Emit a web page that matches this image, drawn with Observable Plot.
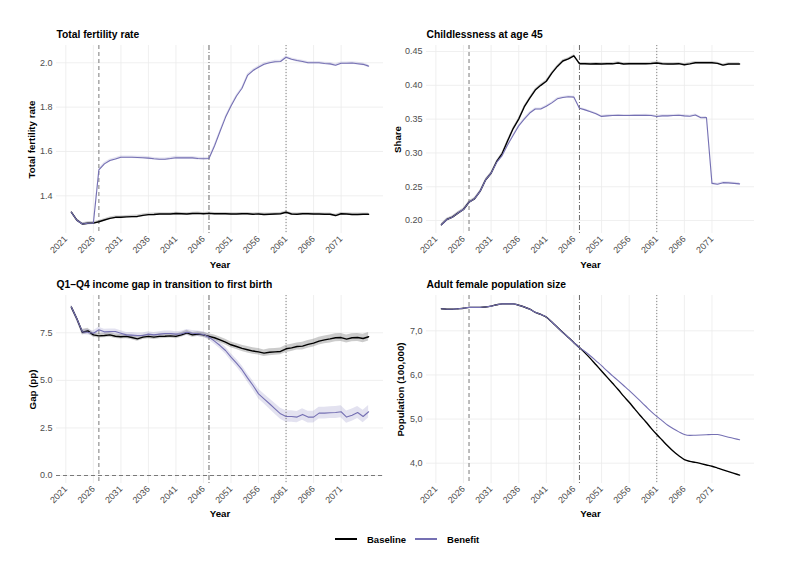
<!DOCTYPE html>
<html><head><meta charset="utf-8">
<script src="https://cdn.jsdelivr.net/npm/d3@7"></script>
<script src="https://cdn.jsdelivr.net/npm/@observablehq/plot@0.6"></script>
<style>
body{margin:0;background:#fff;}
#root{position:relative;width:787px;height:565px;background:#fff;font-family:"Liberation Sans",Arial,sans-serif;overflow:hidden;}
.panel{position:absolute;}
#legend{position:absolute;top:533px;left:335px;height:12px;display:flex;align-items:center;font-weight:bold;font-size:9.5px;color:#000;white-space:nowrap;}
.sw{display:inline-block;width:22px;height:2px;margin-right:10px;}
</style></head><body><div id="root"></div>
<script>
// ---------------- data ----------------
const years = [
  2022, 2023, 2024, 2025, 2026,
  2027, 2028, 2029, 2030, 2031,
  2032, 2033, 2034, 2035, 2036,
  2037, 2038, 2039, 2040, 2041,
  2042, 2043, 2044, 2045, 2046,
  2047, 2048, 2049, 2050, 2051,
  2052, 2053, 2054, 2055, 2056,
  2057, 2058, 2059, 2060, 2061,
  2062, 2063, 2064, 2065, 2066,
  2067, 2068, 2069, 2070, 2071,
  2072, 2073, 2074, 2075, 2076
];
const seriesNames = ["Baseline", "Benefit"];
const xTicks = [2021, 2026, 2031, 2036, 2041, 2046, 2051, 2056, 2061, 2066, 2071];
const policyYears = [2027, 2047, 2061];

// Total fertility rate
const tfrBaseline = [
  1.326, 1.290, 1.273, 1.276, 1.277,
  1.283, 1.291, 1.298, 1.303, 1.303,
  1.305, 1.306, 1.307, 1.312, 1.315,
  1.316, 1.318, 1.318, 1.318, 1.320,
  1.319, 1.318, 1.320, 1.321, 1.319,
  1.321, 1.319, 1.319, 1.319, 1.318,
  1.318, 1.319, 1.319, 1.317, 1.318,
  1.316, 1.317, 1.318, 1.319, 1.326,
  1.318, 1.317, 1.319, 1.319, 1.318,
  1.318, 1.317, 1.317, 1.311, 1.319,
  1.318, 1.316, 1.316, 1.317, 1.317
];
const tfrBenefit = [
  1.326, 1.290, 1.273, 1.276, 1.277,
  1.517, 1.544, 1.559, 1.566, 1.574,
  1.574, 1.574, 1.573, 1.572, 1.570,
  1.567, 1.565, 1.565, 1.568, 1.572,
  1.571, 1.571, 1.571, 1.568, 1.567,
  1.568, 1.625, 1.690, 1.754, 1.805,
  1.850, 1.885, 1.943, 1.965, 1.980,
  1.993, 2.000, 2.005, 2.006, 2.025,
  2.016, 2.010, 2.006, 2.000, 2.000,
  2.000, 1.997, 1.995, 1.989, 1.998,
  1.998, 1.999, 1.996, 1.993, 1.985
];
const tfrBandHalf = [0.006, 0.006];
const tfrTicks = [1.4, 1.6, 1.8, 2.0];

// Childlessness at age 45
const childBaseline = [
  0.1936, 0.2015, 0.2050, 0.2110, 0.2163,
  0.2270, 0.2320, 0.2430, 0.2600, 0.2700,
  0.2870, 0.2990, 0.3180, 0.3360, 0.3500,
  0.3680, 0.3810, 0.3930, 0.4000, 0.4060,
  0.4180, 0.4280, 0.4360, 0.4390, 0.4436,
  0.4320, 0.4320, 0.4315, 0.4320, 0.4315,
  0.4318, 0.4318, 0.4330, 0.4315, 0.4318,
  0.4320, 0.4318, 0.4320, 0.4322, 0.4330,
  0.4320, 0.4315, 0.4315, 0.4320, 0.4305,
  0.4318, 0.4333, 0.4335, 0.4333, 0.4333,
  0.4325, 0.4298, 0.4315, 0.4315, 0.4315
];
const childBenefit = [
  0.1936, 0.2015, 0.2050, 0.2110, 0.2163,
  0.2270, 0.2320, 0.2430, 0.2600, 0.2700,
  0.2860, 0.2960, 0.3120, 0.3260, 0.3400,
  0.3500, 0.3590, 0.3650, 0.3650, 0.3690,
  0.3740, 0.3800, 0.3820, 0.3830, 0.3825,
  0.3660, 0.3637, 0.3610, 0.3580, 0.3540,
  0.3548, 0.3553, 0.3555, 0.3553, 0.3553,
  0.3555, 0.3555, 0.3558, 0.3553, 0.3538,
  0.3548, 0.3548, 0.3553, 0.3558, 0.3548,
  0.3543, 0.3560, 0.3520, 0.3524, 0.2550,
  0.2537, 0.2560, 0.2557, 0.2550, 0.2542
];
const childBandHalf = [0.0018, 0.0015];
const childTicks = [0.20, 0.25, 0.30, 0.35, 0.40, 0.45];

// Q1-Q4 income gap in transition to first birth
const gapBaseline = [
  8.85, 8.24, 7.53, 7.60, 7.39,
  7.34, 7.36, 7.39, 7.32, 7.29,
  7.31, 7.25, 7.18, 7.27, 7.31,
  7.27, 7.31, 7.32, 7.34, 7.31,
  7.39, 7.50, 7.39, 7.43, 7.39,
  7.31, 7.24, 7.13, 7.01, 6.87,
  6.78, 6.68, 6.61, 6.54, 6.50,
  6.43, 6.48, 6.50, 6.52, 6.66,
  6.71, 6.78, 6.80, 6.89, 6.96,
  7.06, 7.13, 7.18, 7.24, 7.25,
  7.17, 7.24, 7.25, 7.20, 7.29
];
const gapBenefit = [
  8.85, 8.24, 7.55, 7.53, 7.48,
  7.66, 7.55, 7.57, 7.57, 7.48,
  7.39, 7.38, 7.36, 7.36, 7.43,
  7.39, 7.43, 7.46, 7.46, 7.43,
  7.45, 7.53, 7.48, 7.45, 7.41,
  7.27, 7.06, 6.83, 6.57, 6.22,
  5.91, 5.56, 5.13, 4.73, 4.29,
  4.03, 3.77, 3.50, 3.24, 3.10,
  3.10, 3.07, 3.21, 3.07, 3.07,
  3.28, 3.28, 3.30, 3.31, 3.35,
  3.07, 3.17, 3.31, 3.10, 3.35
];
const gapBaselineBand = [
  0.10, 0.12, 0.14, 0.14, 0.13,
  0.12, 0.12, 0.12, 0.12, 0.12,
  0.12, 0.12, 0.12, 0.12, 0.12,
  0.12, 0.12, 0.12, 0.12, 0.12,
  0.12, 0.13, 0.13, 0.13, 0.13,
  0.14, 0.14, 0.15, 0.15, 0.15,
  0.16, 0.16, 0.17, 0.17, 0.17,
  0.17, 0.18, 0.18, 0.18, 0.19,
  0.19, 0.19, 0.20, 0.20, 0.20,
  0.20, 0.20, 0.21, 0.21, 0.21,
  0.21, 0.21, 0.21, 0.22, 0.22
];
const gapBenefitBand = [
  0.10, 0.12, 0.14, 0.14, 0.13,
  0.13, 0.13, 0.13, 0.13, 0.13,
  0.13, 0.13, 0.13, 0.13, 0.13,
  0.13, 0.13, 0.13, 0.13, 0.13,
  0.13, 0.14, 0.14, 0.14, 0.14,
  0.15, 0.16, 0.17, 0.18, 0.19,
  0.20, 0.21, 0.22, 0.24, 0.25,
  0.26, 0.27, 0.28, 0.29, 0.30,
  0.30, 0.30, 0.30, 0.31, 0.31,
  0.31, 0.31, 0.31, 0.32, 0.32,
  0.32, 0.32, 0.32, 0.33, 0.33
];
const gapTicks = [0.0, 2.5, 5.0, 7.5];

// Adult female population size (100,000)
const popBaseline = [
  7.50, 7.49, 7.49, 7.50, 7.51,
  7.53, 7.53, 7.53, 7.54, 7.56,
  7.59, 7.61, 7.61, 7.61, 7.58,
  7.54, 7.49, 7.42, 7.37, 7.31,
  7.20, 7.08, 6.96, 6.85, 6.73,
  6.62, 6.50, 6.37, 6.23, 6.09,
  5.95, 5.81, 5.67, 5.52, 5.38,
  5.23, 5.08, 4.94, 4.79, 4.65,
  4.52, 4.39, 4.27, 4.17, 4.08,
  4.04, 4.02, 3.99, 3.96, 3.93,
  3.89, 3.85, 3.81, 3.77, 3.73
];
const popBenefit = [
  7.50, 7.49, 7.49, 7.50, 7.51,
  7.53, 7.53, 7.53, 7.54, 7.56,
  7.59, 7.61, 7.61, 7.61, 7.58,
  7.54, 7.49, 7.42, 7.37, 7.31,
  7.20, 7.08, 6.96, 6.85, 6.73,
  6.62, 6.53, 6.43, 6.32, 6.21,
  6.09, 5.98, 5.87, 5.76, 5.65,
  5.53, 5.41, 5.29, 5.17, 5.06,
  4.96, 4.86, 4.78, 4.71, 4.65,
  4.63, 4.635, 4.64, 4.645, 4.65,
  4.65, 4.62, 4.59, 4.56, 4.53
];
const popTicks = [4.0, 5.0, 6.0, 7.0];

// ---------------- styles ----------------
const FONT = '"Liberation Sans", Arial, Helvetica, sans-serif';
const COLORS = ["#000000", "#7570b3"];
const WIDTHS = [1.4, 1.1];
const POLICY_DASH = ["4,3", "5,2,1,2", "1,2"];
const POLICY_COLOR = ["#6b6b6b", "#5a5a5a", "#777777"];
const GRID = "#ebebeb";
const X_DOMAIN = [2019.3, 2078.7];

function buildPanel(cfg) {
  const rows = years.map((yr, i) => ({
    year: yr,
    v0: cfg.base[i], v1: cfg.ben[i],
    b0: cfg.baseBand[i], b1: cfg.benBand[i]
  }));
  const vals = [cfg.base, cfg.ben];
  const marks = [
    Plot.gridX(xTicks, {stroke: GRID, strokeOpacity: 1, strokeWidth: 0.8}),
    Plot.gridY(cfg.yTicks, {stroke: GRID, strokeOpacity: 1, strokeWidth: 0.8})
  ];
  [0, 1].forEach(s => {
    marks.push(Plot.areaY(rows, {
      x: "year",
      y1: d => d["v" + s] - d["b" + s],
      y2: d => d["v" + s] + d["b" + s],
      fill: COLORS[s], fillOpacity: 0.2, curve: cfg.curve || "linear"
    }));
  });
  if (cfg.zeroLine) {
    marks.push(Plot.ruleY([0], {stroke: "#6b6b6b", strokeWidth: 0.9, strokeDasharray: "4,3"}));
  }
  policyYears.forEach((yr, k) => {
    marks.push(Plot.ruleX([yr], {stroke: POLICY_COLOR[k], strokeWidth: 0.9, strokeDasharray: POLICY_DASH[k]}));
  });
  [0, 1].forEach(s => {
    marks.push(Plot.lineY(rows, {
      x: "year", y: "v" + s, stroke: COLORS[s], strokeWidth: WIDTHS[s],
      curve: cfg.curve || "linear"
    }));
  });
  marks.push(Plot.axisX({ticks: xTicks, tickSize: 0, tickPadding: 4, tickRotate: -45,
    tickFormat: d => String(d), fontSize: 9, fill: "#4d4d4d", label: null}));
  marks.push(Plot.axisY({ticks: cfg.yTicks, tickSize: 0, tickPadding: 4,
    tickFormat: cfg.yFormat, fontSize: 9, fill: "#4d4d4d", label: null}));
  marks.push(Plot.text([cfg.title], {frameAnchor: "top-left", textAnchor: "start", lineAnchor: "middle",
    dy: cfg.titleDy, fontSize: 10.3, fontWeight: "bold", fill: "#000"}));
  marks.push(Plot.text(["Year"], {frameAnchor: "bottom", textAnchor: "middle", lineAnchor: "middle",
    dy: cfg.xLabelDy, fontSize: 9.7, fontWeight: "bold", fill: "#000"}));
  marks.push(Plot.text([cfg.yLabel], {frameAnchor: "left", textAnchor: "middle", lineAnchor: "middle",
    rotate: -90, dx: cfg.yLabelDx, fontSize: 9.7, fontWeight: "bold", fill: "#000"}));

  const svg = Plot.plot({
    width: cfg.width, height: cfg.height,
    marginLeft: cfg.mL, marginRight: cfg.mR, marginTop: cfg.mT, marginBottom: cfg.mB,
    style: {fontFamily: FONT, background: "transparent", overflow: "visible"},
    x: {domain: X_DOMAIN, axis: null},
    y: {domain: cfg.yDomain, axis: null},
    marks
  });
  const div = document.createElement("div");
  div.className = "panel";
  div.style.left = cfg.left + "px";
  div.style.top = cfg.top + "px";
  div.appendChild(svg);
  document.getElementById("root").appendChild(div);
}

const comma1 = d => d.toFixed(1).replace(".", ",");

buildPanel({left: 0, top: 0, width: 393, height: 280, mL: 56, mR: 10, mT: 45, mB: 47,
  title: "Total fertility rate", yLabel: "Total fertility rate", yLabelDx: -24.5, titleDy: -11, xLabelDy: 31,
  yDomain: [1.23, 2.078], yTicks: tfrTicks, yFormat: d => d.toFixed(1),
  base: tfrBaseline, ben: tfrBenefit,
  baseBand: years.map(() => tfrBandHalf[0]), benBand: years.map(() => tfrBandHalf[1])});

buildPanel({left: 393, top: 0, width: 394, height: 280, mL: 33, mR: 33, mT: 45, mB: 47,
  title: "Childlessness at age 45", yLabel: "Share", yLabelDx: -28.7, titleDy: -11, xLabelDy: 31,
  yDomain: [0.1808, 0.4589], yTicks: childTicks, yFormat: d => d.toFixed(2),
  base: childBaseline, ben: childBenefit,
  baseBand: years.map(() => childBandHalf[0]), benBand: years.map(() => childBandHalf[1])});

buildPanel({left: 0, top: 250, width: 393, height: 283, mL: 56, mR: 10, mT: 45, mB: 50,
  title: "Q1\u2013Q4 income gap in transition to first birth", yLabel: "Gap (pp)", yLabelDx: -23.7, titleDy: -10.7, xLabelDy: 30.5,
  yDomain: [-0.42, 9.46], yTicks: gapTicks, yFormat: d => d.toFixed(1),
  base: gapBaseline, ben: gapBenefit, baseBand: gapBaselineBand, benBand: gapBenefitBand, zeroLine: true});

buildPanel({left: 393, top: 250, width: 394, height: 283, mL: 33, mR: 33, mT: 45, mB: 50,
  title: "Adult female population size", yLabel: "Population (100,000)", yLabelDx: -26, titleDy: -10.7, xLabelDy: 30.5,
  yDomain: [3.54, 7.8], yTicks: popTicks, yFormat: comma1,
  base: popBaseline, ben: popBenefit,
  baseBand: years.map(() => 0), benBand: years.map(() => 0), curve: "monotone-x"});

// legend
const legend = document.createElement("div");
legend.id = "legend";
seriesNames.forEach((name, s) => {
  const item = document.createElement("span");
  item.style.display = "inline-flex";
  item.style.alignItems = "center";
  item.style.marginRight = s === 0 ? "9px" : "0";
  const sw = document.createElement("span");
  sw.className = "sw";
  sw.style.background = COLORS[s];
  const t = document.createElement("span");
  t.textContent = name;
  item.appendChild(sw);
  item.appendChild(t);
  legend.appendChild(item);
});
document.getElementById("root").appendChild(legend);
</script></body></html>
